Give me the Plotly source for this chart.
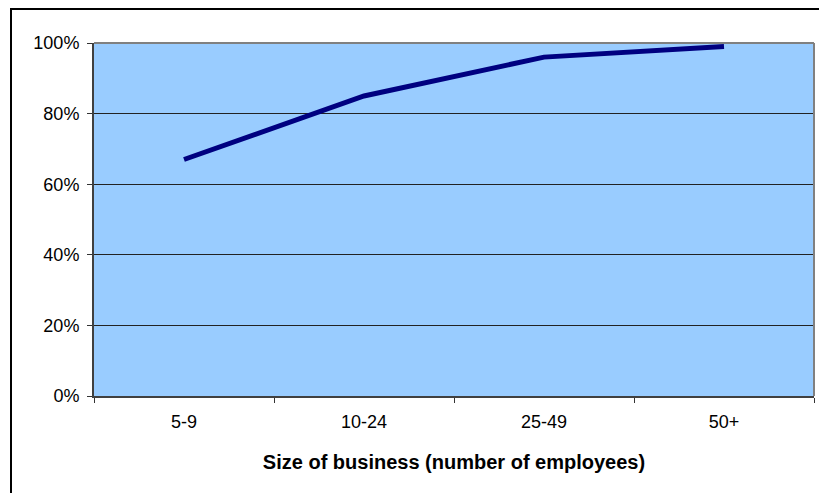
import plotly.graph_objects as go

# Share of businesses by size band
sizes = ["5-9", "10-24", "25-49", "50+"]
shares = [0.67, 0.85, 0.96, 0.99]

W, H = 819, 493
ML, MR, MT, MB = 94, 5, 43, 97
pw, ph = W - ML - MR, H - MT - MB

def px_x(x):
    return (x - ML) / pw

def px_y(y):
    return (H - MB - y) / ph

fig = go.Figure(
    go.Scatter(
        x=sizes,
        y=shares,
        mode="lines",
        line=dict(color="#000080", width=5),
        hoverinfo="x+y",
    )
)

font = dict(family="Liberation Sans, Arial, sans-serif", size=18, color="black")

fig.update_layout(
    width=W,
    height=H,
    margin=dict(l=ML, r=MR, t=MT, b=MB),
    paper_bgcolor="white",
    plot_bgcolor="#99ccff",
    showlegend=False,
    font=font,
    xaxis=dict(
        type="category",
        range=[-0.5, 3.5],
        tickson="boundaries",
        ticks="outside",
        ticklen=5,
        tickcolor="#333333",
        ticklabelstandoff=8,
        showgrid=False,
        showline=True,
        linecolor="#404040",
        linewidth=2,
        zeroline=False,
        tickfont=dict(size=18),
        title=dict(
            text="<b>Size of business (number of employees)</b>",
            font=dict(size=20),
            standoff=24,
        ),
    ),
    yaxis=dict(
        range=[0, 1],
        tickvals=[0, 0.2, 0.4, 0.6, 0.8, 1.0],
        tickformat=".0%",
        ticks="outside",
        ticklen=5,
        tickcolor="#333333",
        ticklabelstandoff=4,
        showgrid=True,
        gridcolor="#222222",
        gridwidth=1,
        showline=True,
        linecolor="#404040",
        linewidth=2,
        zeroline=False,
        tickfont=dict(size=18),
    ),
    shapes=[
        # plot-area frame: grey top and right edges
        dict(type="line", xref="paper", yref="paper", x0=0, x1=1, y0=1, y1=1,
             line=dict(color="#808080", width=2)),
        dict(type="line", xref="paper", yref="paper", x0=1, x1=1, y0=0, y1=1,
             line=dict(color="#808080", width=2)),
        # outer chart border
        dict(type="rect", xref="paper", yref="paper",
             x0=px_x(11), x1=px_x(840), y0=px_y(520), y1=px_y(9),
             line=dict(color="black", width=2), fillcolor="rgba(0,0,0,0)",
             layer="below"),
    ],
)

fig.write_html("out.html")
